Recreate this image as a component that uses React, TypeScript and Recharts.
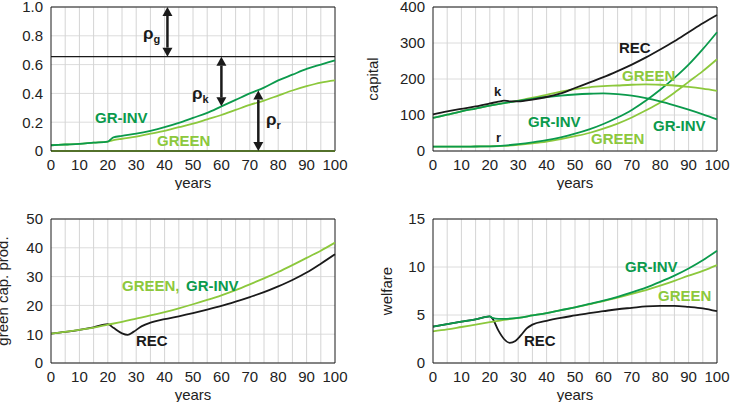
import React from 'react';
import { LineChart, Line, XAxis, YAxis, CartesianGrid, ReferenceLine } from 'recharts';

const DARK = '#0b9a4c';
const LIGHT = '#8cc83c';
const BLACK = '#1a1a1a';
const FONT = '"Liberation Sans", Arial, sans-serif';

const X_TICKS = [0, 10, 20, 30, 40, 50, 60, 70, 80, 90, 100];
const GRID_X = [5, 10, 15, 20, 25, 30, 35, 40, 45, 50, 55, 60, 65, 70, 75, 80, 85, 90, 95];
const YEARS = [0, 5, 10, 15, 20, 25, 30, 35, 40, 45, 50, 55, 60, 65, 70, 75, 80, 85, 90, 95, 100];

// top left: shares
const SHARE_YEARS = [0, 5, 10, 15, 20, 21, 22, 25, 30, 35, 40, 45, 50, 55, 60, 65, 70, 75, 80, 85, 90, 95, 100];
const SHARE_GRINV = [0.04, 0.045, 0.05, 0.058, 0.065, 0.08, 0.095, 0.105, 0.12, 0.14, 0.165, 0.195, 0.23, 0.265, 0.31, 0.355, 0.4, 0.44, 0.49, 0.53, 0.57, 0.6, 0.63];
const SHARE_GREEN = [0.04, 0.045, 0.05, 0.058, 0.065, 0.07, 0.075, 0.085, 0.1, 0.12, 0.14, 0.165, 0.19, 0.22, 0.25, 0.285, 0.32, 0.35, 0.385, 0.42, 0.45, 0.475, 0.49];
const SHARE_REC = [0, 0];
const SHARE_REC_YEARS = [0, 100];
const RHO_TOP = 0.655;

// top right: capital
const K_REC_YEARS = [0, 5, 10, 15, 20, 23, 25, 27, 30, 35, 40, 45, 50, 55, 60, 65, 70, 75, 80, 85, 90, 95, 100];
const K_REC = [102, 110, 117, 124, 132, 137, 140, 138, 138, 143, 150, 160, 175, 190, 205, 222, 240, 260, 282, 305, 330, 355, 378];
const K_GREEN = [92, 101, 110, 118, 126, 133, 140, 148, 156, 165, 172, 177, 180, 182, 184, 185, 184, 182, 178, 173, 167];
const K_GRINV = [92, 101, 110, 118, 126, 133, 139, 145, 150, 154, 157, 159, 160, 158, 154, 147, 138, 127, 115, 102, 88];
const R_GRINV = [12, 12, 12, 12.5, 13, 15, 19, 24, 30, 38, 48, 60, 75, 93, 114, 140, 170, 203, 240, 283, 330];
const R_GREEN = [12, 12, 12, 12.5, 13, 14, 17, 21, 26, 33, 41, 50, 62, 76, 93, 113, 135, 162, 192, 222, 255];

// bottom left: green capital productivity
const PROD_GREEN = [10.2, 10.8, 11.5, 12.3, 13.3, 14.3, 15.4, 16.5, 17.7, 19, 20.4, 21.9, 23.5, 25.3, 27.3, 29.4, 31.6, 34, 36.5, 39, 41.8];
const PROD_REC_YEARS = [0, 5, 10, 15, 20, 22, 25, 27, 29, 32, 35, 40, 45, 50, 55, 60, 65, 70, 75, 80, 85, 90, 95, 100];
const PROD_REC = [10.2, 10.8, 11.5, 12.4, 13.5, 12.2, 10.3, 9.8, 10.8, 12.8, 14, 15.2, 16.2, 17.3, 18.5, 19.8, 21.3, 22.9, 24.6, 26.6, 28.8, 31.4, 34.5, 37.8];

// bottom right: welfare
const W_REC_YEARS = [0, 5, 10, 15, 20, 21, 23, 25, 27, 29, 31, 33, 35, 40, 45, 50, 55, 60, 65, 70, 75, 80, 85, 90, 95, 100];
const W_REC = [3.8, 4.05, 4.3, 4.55, 4.85, 4.6, 3.4, 2.5, 2.1, 2.3, 2.9, 3.6, 4.0, 4.4, 4.7, 4.95, 5.2, 5.4, 5.6, 5.75, 5.9, 5.95, 5.95, 5.85, 5.7, 5.4];
const W_GREEN = [3.3, 3.5, 3.75, 4.0, 4.25, 4.5, 4.7, 4.95, 5.2, 5.5, 5.8, 6.1, 6.45, 6.8, 7.2, 7.6, 8.05, 8.55, 9.1, 9.6, 10.2];
const W_GRINV_YEARS = [0, 5, 10, 15, 20, 21, 23, 25, 30, 35, 40, 45, 50, 55, 60, 65, 70, 75, 80, 85, 90, 95, 100];
const W_GRINV = [3.8, 4.05, 4.3, 4.55, 4.85, 4.7, 4.6, 4.6, 4.7, 4.95, 5.2, 5.5, 5.8, 6.15, 6.5, 6.9, 7.35, 7.85, 8.45, 9.1, 9.85, 10.7, 11.7];

const rows = (xs: number[], ys: number[]) => xs.map((x, i) => ({ x, y: ys[i] }));

type Series = { data: { x: number; y: number }[]; color: string };
type Arrow = { x: number; y1: number; y2: number };

function arrowShape(p: any) {
  const { x1, y1, x2, y2 } = p;
  const top = Math.min(y1, y2);
  const bot = Math.max(y1, y2);
  const h = 9;
  const w = 5;
  return (
    <g>
      <line x1={x1} y1={top + h} x2={x2} y2={bot - h} stroke={BLACK} strokeWidth={2.5} />
      <polygon points={`${x1},${top} ${x1 - w},${top + h} ${x1 + w},${top + h}`} fill={BLACK} />
      <polygon points={`${x1},${bot} ${x1 - w},${bot - h} ${x1 + w},${bot - h}`} fill={BLACK} />
    </g>
  );
}

function Panel({ left, top, yWidth, yMax, yTicks, yLabel, labelOffset = 4, series, fmt, extra }: {
  left: number; top: number; yWidth: number; yMax: number; yTicks: number[]; yLabel?: string; labelOffset?: number;
  series: Series[]; fmt?: (v: number) => string; extra?: React.ReactNode;
}) {
  return (
    <div style={{ position: 'absolute', left, top }}>
      <LineChart width={yWidth + 284 + 20} height={190} margin={{ top: 7, right: 20, left: 0, bottom: 0 }}>
        <CartesianGrid vertical={false} stroke="#dcdcdc" />
        {GRID_X.map(v => <ReferenceLine key={v} x={v} stroke="#d4d4d4" />)}
        <XAxis type="number" dataKey="x" domain={[0, 100]} ticks={X_TICKS} tickLine={false} height={39}
          axisLine={{ stroke: BLACK }} tick={{ fill: '#222', fontSize: 15, fontFamily: FONT }} interval={0}
          label={{ value: 'years', position: 'insideBottom', offset: 2, fill: '#222', fontSize: 15, fontFamily: FONT }} />
        <YAxis type="number" domain={[0, yMax]} ticks={yTicks} tickLine={false} width={yWidth} tickFormatter={fmt}
          axisLine={{ stroke: BLACK }} tick={{ fill: '#222', fontSize: 15, fontFamily: FONT }} interval={0}
          label={yLabel ? { value: yLabel, angle: -90, position: 'insideLeft', offset: labelOffset, fill: '#222', fontSize: 15, fontFamily: FONT, style: { textAnchor: 'middle' } } : undefined} />
        <ReferenceLine y={yMax} stroke={BLACK} />
        <ReferenceLine x={100} stroke={BLACK} />
        {series.map((s, i) => (
          <Line key={i} data={s.data} dataKey="y" type="monotone" stroke={s.color} strokeWidth={1.8}
            dot={false} isAnimationActive={false} />
        ))}
        {extra}
      </LineChart>
    </div>
  );
}

const lab = (text: string, x: number, y: number, color: string, size = 15) => (
  <div style={{ position: 'absolute', left: x, top: y - size / 2 - 2, color, fontSize: size, fontWeight: 'bold', fontFamily: FONT, whiteSpace: 'nowrap' }}>{text}</div>
);

const ARROWS: Arrow[] = [
  { x: 41, y1: RHO_TOP, y2: 1.0 },
  { x: 60, y1: 0.31, y2: RHO_TOP },
  { x: 73, y1: 0, y2: 0.42 },
];

export default function App() {
  return (
    <div style={{ position: 'absolute', left: 0, top: 0, width: 731, height: 407, background: '#fff', fontFamily: FONT, overflow: 'hidden' }}>
      <Panel left={0} top={0} yWidth={51} yMax={1} yTicks={[0, 0.2, 0.4, 0.6, 0.8, 1]}
        fmt={(v) => (v === 0 ? '0' : v.toFixed(1))}
        series={[
          { data: rows(SHARE_REC_YEARS, SHARE_REC), color: LIGHT },
          { data: rows(SHARE_YEARS, SHARE_GREEN), color: LIGHT },
          { data: rows(SHARE_YEARS, SHARE_GRINV), color: DARK },
        ]}
        extra={[
          <ReferenceLine key="top" y={RHO_TOP} stroke={BLACK} strokeWidth={1.2} />,
          ...ARROWS.map((a, i) => (
            <ReferenceLine key={'a' + i} segment={[{ x: a.x, y: a.y1 }, { x: a.x, y: a.y2 }]} shape={arrowShape} />
          )),
        ]} />
      <Panel left={365} top={0} yWidth={68} yMax={400} yTicks={[0, 100, 200, 300, 400]} yLabel="capital" labelOffset={8}
        series={[
          { data: rows(YEARS, R_GREEN), color: LIGHT },
          { data: rows(YEARS, R_GRINV), color: DARK },
          { data: rows(YEARS, K_GREEN), color: LIGHT },
          { data: rows(YEARS, K_GRINV), color: DARK },
          { data: rows(K_REC_YEARS, K_REC), color: BLACK },
        ]} />
      <Panel left={0} top={212} yWidth={51} yMax={50} yTicks={[0, 10, 20, 30, 40, 50]} yLabel="green cap. prod." labelOffset={3}
        series={[
          { data: rows(PROD_REC_YEARS, PROD_REC), color: BLACK },
          { data: rows(YEARS, PROD_GREEN), color: LIGHT },
        ]} />
      <Panel left={365} top={212} yWidth={68} yMax={15} yTicks={[0, 5, 10, 15]} yLabel="welfare" labelOffset={22}
        series={[
          { data: rows(W_REC_YEARS, W_REC), color: BLACK },
          { data: rows(YEARS, W_GREEN), color: LIGHT },
          { data: rows(W_GRINV_YEARS, W_GRINV), color: DARK },
        ]} />

      {lab('GR-INV', 95, 118, DARK)}
      {lab('GREEN', 157, 141, LIGHT)}
      <div style={{ position: 'absolute', left: 143, top: 24, fontSize: 17, fontWeight: 'bold', color: BLACK }}>ρ<sub style={{ fontSize: 11 }}>g</sub></div>
      <div style={{ position: 'absolute', left: 192, top: 84, fontSize: 17, fontWeight: 'bold', color: BLACK }}>ρ<sub style={{ fontSize: 11 }}>k</sub></div>
      <div style={{ position: 'absolute', left: 266, top: 110, fontSize: 17, fontWeight: 'bold', color: BLACK }}>ρ<sub style={{ fontSize: 11 }}>r</sub></div>

      {lab('REC', 619, 48, BLACK)}
      {lab('GREEN', 622, 76, LIGHT)}
      {lab('k', 494, 92, BLACK, 13)}
      {lab('GR-INV', 528, 122, DARK)}
      {lab('GR-INV', 653, 126, DARK)}
      {lab('GREEN', 591, 139, LIGHT)}
      {lab('r', 496, 138, BLACK, 13)}

      {lab('GREEN,', 122, 286, LIGHT)}
      {lab('GR-INV', 186, 286, DARK)}
      {lab('REC', 136, 341, BLACK)}

      {lab('GR-INV', 625, 267, DARK)}
      {lab('GREEN', 658, 296, LIGHT)}
      {lab('REC', 524, 341, BLACK)}
    </div>
  );
}
